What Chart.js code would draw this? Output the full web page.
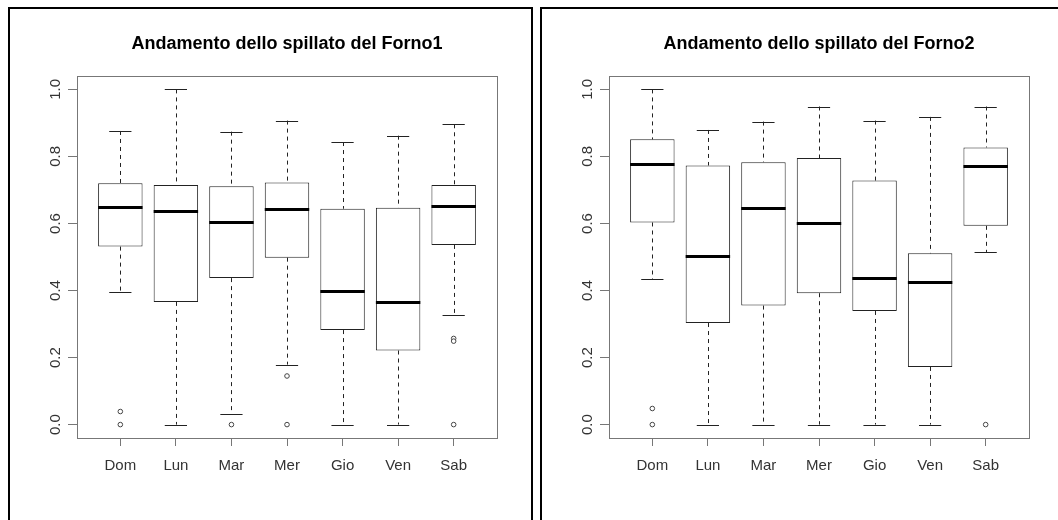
<!DOCTYPE html>
<html>
<head>
<meta charset="utf-8">
<script src="https://cdn.jsdelivr.net/npm/chart.js@4.4.1/dist/chart.umd.min.js"></script>
<style>
  html, body { margin: 0; width: 1058px; height: 520px; overflow: hidden; background: #fff; }
  .panel { position: absolute; top: 7px; width: 521px; height: 560px; border: 2px solid #000; }
  #p1 { left: 8px; }
  #p2 { left: 540px; }
  canvas { display: block; }
</style>
</head>
<body>
<div class="panel" id="p1"><canvas id="forno1" width="521" height="520"></canvas></div>
<div class="panel" id="p2"><canvas id="forno2" width="521" height="520"></canvas></div>
<script>
const days = ['Dom', 'Lun', 'Mar', 'Mer', 'Gio', 'Ven', 'Sab'];
const yTicks = [0, 0.2, 0.4, 0.6, 0.8, 1.0];

// Forno1: five-number summary per day plus outliers
const f1Max = [0.876, 1.000, 0.874, 0.907, 0.843, 0.862, 0.896];
const f1Q3  = [0.720, 0.715, 0.711, 0.722, 0.644, 0.647, 0.715];
const f1Med = [0.649, 0.638, 0.605, 0.644, 0.400, 0.367, 0.653];
const f1Q1  = [0.531, 0.366, 0.437, 0.498, 0.282, 0.221, 0.536];
const f1Min = [0.395, 0.000, 0.032, 0.179, 0.000, 0.000, 0.327];
const f1Out = [[0.039, 0], [], [0], [0.145, 0], [], [], [0.257, 0.249, 0]];

// Forno2
const f2Max = [1.000, 0.879, 0.904, 0.949, 0.907, 0.918, 0.949];
const f2Q3  = [0.851, 0.773, 0.783, 0.795, 0.728, 0.511, 0.827];
const f2Med = [0.776, 0.504, 0.646, 0.602, 0.437, 0.426, 0.771];
const f2Q1  = [0.603, 0.303, 0.355, 0.392, 0.339, 0.172, 0.593];
const f2Min = [0.434, 0.000, 0.000, 0.000, 0.000, 0.000, 0.515];
const f2Out = [[0.048, 0], [], [], [], [], [], [0]];

Chart.defaults.font.family = "'Liberation Sans', Arial, sans-serif";

const boxHalf = 0.4;    // half of the box width, in x units
const capHalf = 0.2;    // half of the whisker staple
const inkColor = '#222';
const frameColor = '#777';
const labelColor = '#333';

// whiskers, staples, medians and the plot frame
const boxParts = s => ({
  id: 'boxParts',
  beforeDatasetsDraw(chart) {
    const {ctx, scales: {x, y}} = chart;
    ctx.save();
    ctx.strokeStyle = inkColor;
    ctx.lineWidth = 1;
    s.med.forEach((_, i) => {
      const cx = Math.round(x.getPixelForValue(i + 1)) + 0.5;
      ctx.setLineDash([4, 4]);
      ctx.beginPath();
      ctx.moveTo(cx, y.getPixelForValue(s.max[i]));
      ctx.lineTo(cx, y.getPixelForValue(s.q3[i]));
      ctx.moveTo(cx, y.getPixelForValue(s.q1[i]));
      ctx.lineTo(cx, y.getPixelForValue(s.min[i]));
      ctx.stroke();
      ctx.setLineDash([]);
      ctx.beginPath();
      [s.max[i], s.min[i]].forEach(v => {
        const py = Math.round(y.getPixelForValue(v)) + 0.5;
        ctx.moveTo(x.getPixelForValue(i + 1 - capHalf), py);
        ctx.lineTo(x.getPixelForValue(i + 1 + capHalf), py);
      });
      ctx.stroke();
    });
    ctx.restore();
  },
  afterDatasetsDraw(chart) {
    const {ctx, chartArea: a, scales: {x, y}} = chart;
    ctx.save();
    ctx.strokeStyle = '#000';
    ctx.lineWidth = 3;
    s.med.forEach((m, i) => {
      const py = Math.round(y.getPixelForValue(m)) + 0.5;
      ctx.beginPath();
      ctx.moveTo(x.getPixelForValue(i + 1 - boxHalf), py);
      ctx.lineTo(x.getPixelForValue(i + 1 + boxHalf), py);
      ctx.stroke();
    });
    ctx.strokeStyle = frameColor;
    ctx.lineWidth = 1;
    ctx.strokeRect(a.left + 0.5, a.top + 0.5, a.right - a.left, a.bottom - a.top);
    ctx.restore();
  }
});

function boxChart(id, title, s) {
  const n = days.length;
  return new Chart(document.getElementById(id), {
    type: 'bar',
    data: {
      datasets: [
        {
          type: 'bar',
          data: days.map((d, i) => ({ x: i + 1, y: [s.q1[i], s.q3[i]] })),
          backgroundColor: '#fff',
          borderColor: inkColor,
          borderWidth: 1,
          borderSkipped: false,
          barPercentage: 2 * boxHalf,
          categoryPercentage: 1,
        },
        {
          type: 'scatter',
          data: s.out.flatMap((vals, i) => vals.map(v => ({ x: i + 1, y: v }))),
          pointRadius: 2.3,
          pointBorderWidth: 1,
          pointBackgroundColor: '#fff',
          pointBorderColor: '#444',
        },
      ],
    },
    options: {
      responsive: false,
      animation: false,
      events: [],
      layout: { padding: { left: 0, right: 34, top: 0, bottom: 46 } },
      plugins: {
        legend: { display: false },
        tooltip: { enabled: false },
        title: {
          display: true,
          text: title,
          fullSize: false,
          color: '#000',
          font: { size: 18, weight: 'bold' },
          padding: { top: 24, bottom: 21.4 },
        },
      },
      scales: {
        x: {
          type: 'linear',
          offset: false,
          min: 0.5 - 0.04 * n,
          max: n + 0.5 + 0.04 * n,
          afterBuildTicks: sc => { sc.ticks = days.map((d, i) => ({ value: i + 1 })); },
          afterFit: sc => { sc.height = 45; },
          grid: { offset: false, drawOnChartArea: false, tickLength: 8, tickColor: frameColor },
          border: { display: false },
          ticks: {
            autoSkip: false,
            maxRotation: 0,
            padding: 11,
            color: labelColor,
            font: { size: 15 },
            callback: (v, i) => days[i],
          },
        },
        y: {
          min: -0.04,
          max: 1.04,
          afterBuildTicks: sc => { sc.ticks = yTicks.map(v => ({ value: v })); },
          afterFit: sc => { sc.width = 67; },
          grid: { drawOnChartArea: false, tickLength: 9, tickColor: frameColor },
          border: { display: false },
          ticks: {
            minRotation: 90,
            maxRotation: 90,
            crossAlign: 'center',
            padding: 2,
            color: labelColor,
            font: { size: 15 },
            callback: v => v.toFixed(1),
          },
        },
      },
    },
    plugins: [boxParts(s)],
  });
}

boxChart('forno1', 'Andamento dello spillato del Forno1',
  { max: f1Max, q3: f1Q3, med: f1Med, q1: f1Q1, min: f1Min, out: f1Out });
boxChart('forno2', 'Andamento dello spillato del Forno2',
  { max: f2Max, q3: f2Q3, med: f2Med, q1: f2Q1, min: f2Min, out: f2Out });
</script>
</body>
</html>
